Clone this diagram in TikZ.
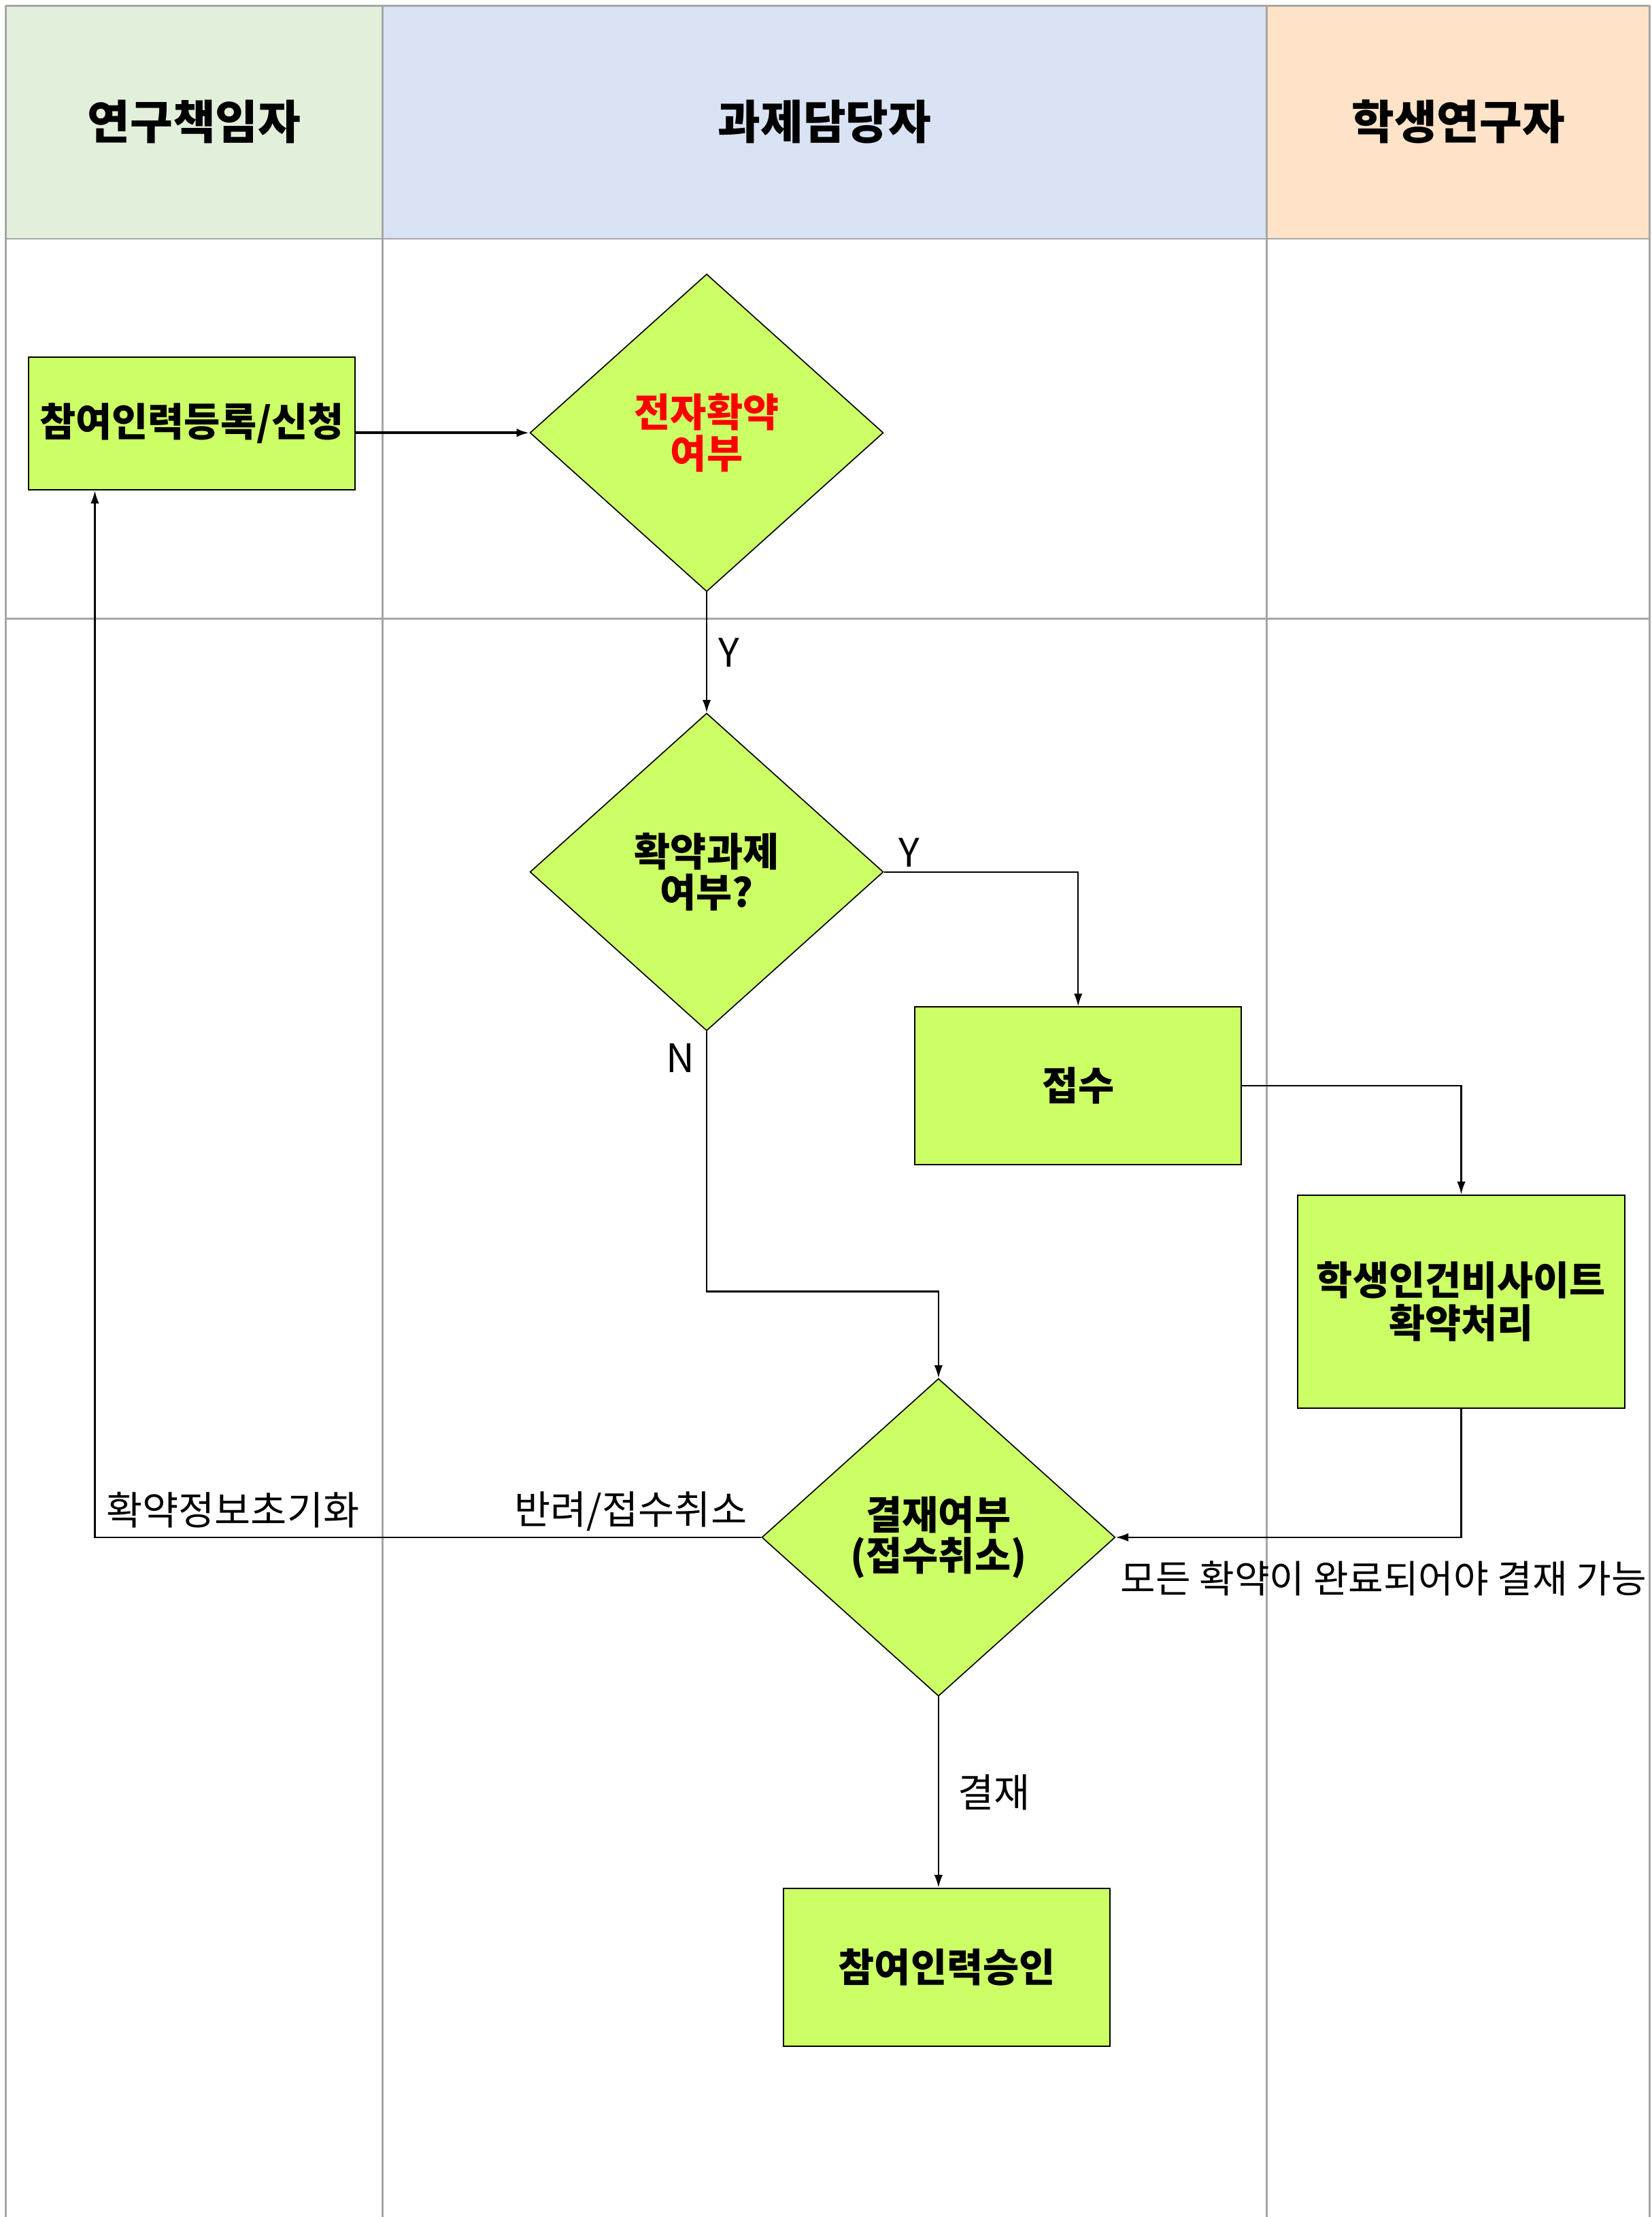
\documentclass[tikz,border=0pt]{standalone}
\usepackage{fontspec}
\setmainfont{Noto Sans CJK KR}
\usetikzlibrary{shapes.geometric,arrows.meta}
\definecolor{lanegreen}{HTML}{E2EFDA}
\definecolor{laneblue}{HTML}{DAE3F3}
\definecolor{lanepeach}{HTML}{FFE3C8}
\definecolor{nodelime}{HTML}{CCFF66}
\definecolor{gridgray}{HTML}{A6A6A6}
\begin{document}
\begin{tikzpicture}[x=0.5pt,y=-0.5pt,>={Latex[length=4.5pt,width=3pt]},
		lane/.style={draw=gridgray,line width=0.6pt},
		head/.style={font=\fontsize{16.4}{18}\selectfont\bfseries},
		box/.style={rectangle,draw,fill=nodelime,line width=0.5pt,minimum width=115.5pt,inner sep=0pt,align=center,font=\fontsize{13.9}{15.2}\selectfont\bfseries},
		dia/.style={diamond,draw,fill=nodelime,line width=0.4pt,minimum width=125pt,minimum height=112.3pt,inner sep=0pt,align=center,font=\fontsize{13.9}{14.6}\selectfont\bfseries},
		lab/.style={font=\fontsize{13.9}{15}\selectfont,inner sep=0pt}]
		\useasboundingbox (0,0) rectangle (1168.2,1568);
		% lanes
		\fill[lanegreen] (4,4) rectangle (270.6,168.9);
		\fill[laneblue] (270.6,4) rectangle (896,168.9);
		\fill[lanepeach] (896,4) rectangle (1167,168.9);
		\foreach \x in {4,270.6,896,1167} \draw[lane] (\x,4) -- (\x,1568);
		\foreach \y in {4,168.9,437.6} \draw[lane] (4,\y) -- (1167,\y);
		\node[head] (h1) at (137.3,86) {연구책임자};
		\node[head] (h2) at (583.3,86) {과제담당자};
		\node[head] (h3) at (1031.6,86) {학생연구자};
		% steps
		\node[box,minimum height=47pt] (reg) at (135.7,299.6) {참여인력등록/신청};
		\node[dia,text=red] (esign) at (499.9,306.1) {전자확약\\여부};
		\node[dia] (task) at (499.9,616.7) {확약과제\\여부?};
		\node[box,minimum height=55.7pt] (recv) at (762.7,767.9) {접수};
		\node[box,minimum height=75.3pt] (site) at (1033.7,920.5) {학생인건비사이트\\확약처리};
		\node[dia] (appr) at (663.9,1087.3) {결재여부\\(접수취소)};
		\node[box,minimum height=55.9pt] (ok) at (669.8,1391.4) {참여인력승인};
		\coordinate (back) at (67.1,1087.3);
		% flow
		\draw[->,line width=1pt] (reg.east |- esign.west) -- (esign.west);
		\draw[->,line width=0.5pt] (esign.south) -- (task.north) node[lab,midway,right,xshift=4pt] (y1) {Y};
		\draw[->,line width=0.5pt] (task.east) node[lab,anchor=south west,xshift=5pt,yshift=1.5pt] (y2) {Y} -| (recv.north);
		\draw[->,line width=0.5pt] (task.south) node[lab,anchor=north east,xshift=-4pt,yshift=-4pt] (n1) {N} -- ++(0,184) -| (appr.north);
		\draw[->,line width=0.5pt] (recv.east) -| (site.north);
		\draw[->,line width=0.5pt] (site.south) |- (appr.east) node[lab,anchor=north west,xshift=1.5pt,yshift=-8pt,font=\fontsize{13.5}{15}\selectfont] (note) {모든 확약이 완료되어야 결재 가능};
		\draw[->,line width=0.5pt] (appr.west) node[lab,anchor=south east,xshift=-4.8pt,yshift=2pt] (rej) {반려/접수취소} -- (back) node[lab,anchor=south west,xshift=3.8pt,yshift=3pt] (reset) {확약정보초기화} -- (back |- reg.south);
		\draw[->,line width=0.5pt] (appr.south) -- (appr.south |- ok.north) node[lab,midway,right,xshift=6.7pt] (pay) {결재};
	\end{tikzpicture}
\end{document}
